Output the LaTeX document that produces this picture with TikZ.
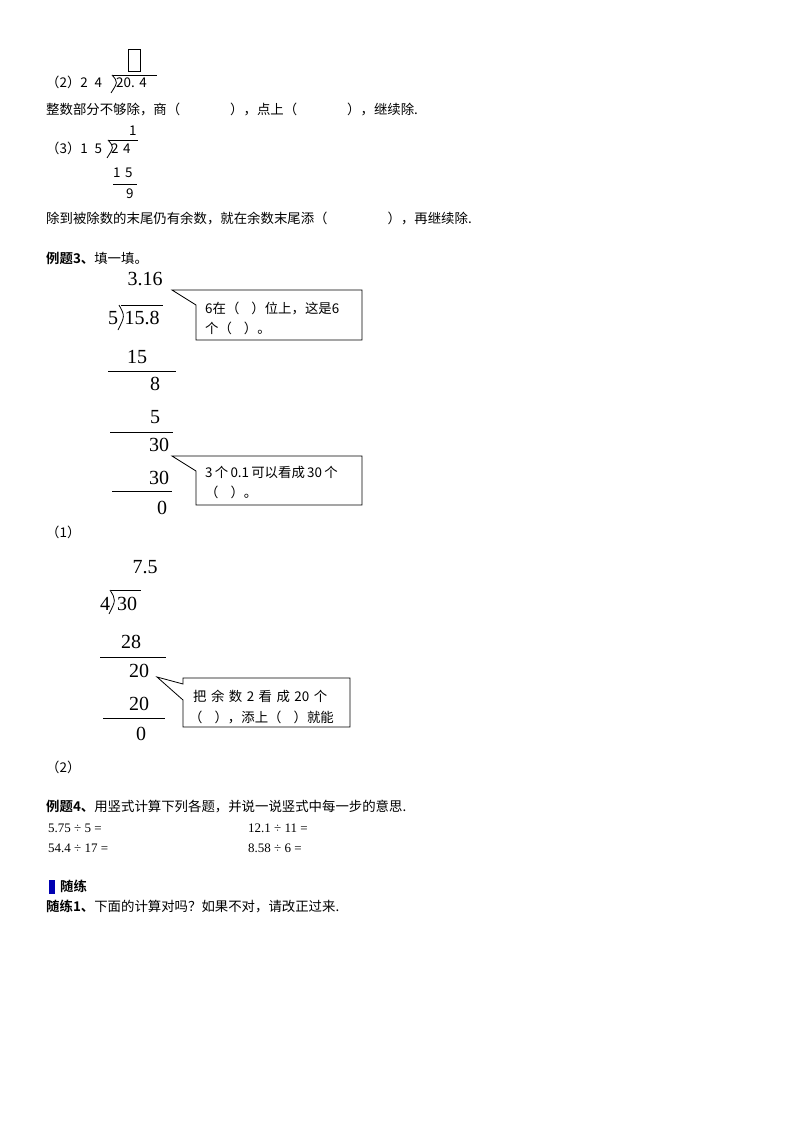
\documentclass[tikz,border=0pt]{standalone}
\usepackage{fontspec}
\setmainfont{Liberation Serif}
\newfontfamily\cjk{Noto Sans CJK SC}
\newfontfamily\cjkb{Noto Sans CJK SC Bold}
\begin{document}
\begin{tikzpicture}[x=1pt,y=-1pt,
  t/.style={anchor=base west,inner sep=0pt,font=\fontsize{13.4}{15}\cjk},
  tb/.style={anchor=base west,inner sep=0pt,font=\fontsize{13.4}{15}\cjkb},
  num/.style={anchor=base,inner sep=0pt,font=\fontsize{20}{22}\selectfont},
  sm/.style={anchor=base west,inner sep=0pt,font=\fontsize{13}{14}\selectfont},
  rule/.style={line width=0.8pt},
  call/.style={draw,line width=0.8pt,fill=white}]
\useasboundingbox (0,0) rectangle (794,1123);
% (2)
\node[t] (p2) at (46,88) {（2）2\,\,\,4};
\node[t] (d2) at (116,88) {20.\,\,4};
\draw[rule] (113,75) -- (157,75);
\draw[rule] (112,75) .. controls (118,82) .. (111,93);
\draw[line width=0.6pt] (128,49) rectangle (140,71);
\node[t] (l1) at (46,115) {整数部分不够除，商（\hspace{50pt}），点上（\hspace{50pt}），继续除.};
% (3)
\node[t] (p3) at (46,154) {（3）1\,\,\,5};
\node[t] (d3) at (111,154) {2\,\,4};
\node[t] (q3) at (129,136) {1};
\draw[rule] (109,140) -- (138,140);
\draw[rule] (108,140) .. controls (114,147) .. (107,158);
\node[t] (s3) at (113,178) {1\,\,5};
\draw[rule] (113,184) -- (137,184);
\node[t] (r3) at (126,199) {9};
\node[t] (l2) at (46,223) {除到被除数的末尾仍有余数，就在余数末尾添（\hspace{60pt}），再继续除.};
% 例题3
\node[tb] (e3) at (46,263) {例题3、\cjk 填一填。};
\node[num] (q) at (145,285) {3.16};
\node[num] (dv) at (113,324) {5};
\node[num] (dd) at (142,324) {15.8};
\draw[rule] (121,305) -- (163,305);
\draw[rule] (119,305) .. controls (125,316) .. (118,330);
\node[num] (a1) at (137,363) {15};
\draw[rule] (108,371) -- (176,371);
\node[num] (a2) at (155,390) {8};
\node[num] (a3) at (155,423) {5};
\draw[rule] (110,432) -- (173,432);
\node[num] (a4) at (159,451) {30};
\node[num] (a5) at (159,484) {30};
\draw[rule] (112,491) -- (172,491);
\node[num] (a6) at (162,514) {0};
\coordinate (tip1) at (172,290);
\draw[call] (196,290) -- (tip1) -- (196,305) -- (196,340) -- (362,340) -- (362,290) -- cycle;
\node[t] (c1a) at (205,313) {6在（\hspace{12pt}）位上，这是6};
\node[t] (c1b) at (205,333) {个（\hspace{12pt}）。};
\coordinate (tip2) at (172,456);
\draw[call] (196,456) -- (tip2) -- (196,471) -- (196,505) -- (362,505) -- (362,456) -- cycle;
\node[t] (c2a) at (205,477) {3\,个\,0.1\,可以看成\,30\,个};
\node[t] (c2b) at (205,497) {（\hspace{12pt}）。};
\node[t] (n1) at (46,537) {（1）};
% (2) second
\node[num] (b0) at (145,573) {7.5};
\node[num] (bv) at (105,610) {4};
\node[num] (bd) at (127,610) {30};
\draw[rule] (111,590) -- (141,590);
\draw[rule] (110,590) .. controls (116,600) .. (109,614);
\node[num] (b1) at (131,648) {28};
\draw[rule] (100,657) -- (166,657);
\node[num] (b2) at (139,677) {20};
\node[num] (b3) at (139,710) {20};
\draw[rule] (103,718) -- (165,718);
\node[num] (b4) at (141,740) {0};
\coordinate (tip3) at (157,677);
\draw[call] (183,684) -- (tip3) -- (183,700) -- (183,727) -- (350,727) -- (350,678) -- (183,678) -- cycle;
\node[t] (c3a) at (193,701) {把\,\,余\,\,数\,\,2\,\,看\,\,成\,\,20\,\,个};
\node[t] (c3b) at (189,722) {（\hspace{12pt}），添上（\hspace{12pt}）就能};
\node[t] (n2) at (46,772) {（2）};
% 例题4
\node[tb] (e4) at (46,811) {例题4、\cjk 用竖式计算下列各题，并说一说竖式中每一步的意思.};
\node[sm] (x1) at (48,832) {5.75 ÷ 5 =};
\node[sm] (x2) at (248,832) {12.1 ÷ 11 =};
\node[sm] (x3) at (48,852) {54.4 ÷ 17 =};
\node[sm] (x4) at (248,852) {8.58 ÷ 6 =};
\fill[blue!70!black] (49,880) rectangle (55,894);
\node[tb] (sl) at (60,891) {随练};
\node[tb] (s1) at (46,911) {随练1、\cjk 下面的计算对吗？如果不对，请改正过来.};
\end{tikzpicture}
\end{document}
